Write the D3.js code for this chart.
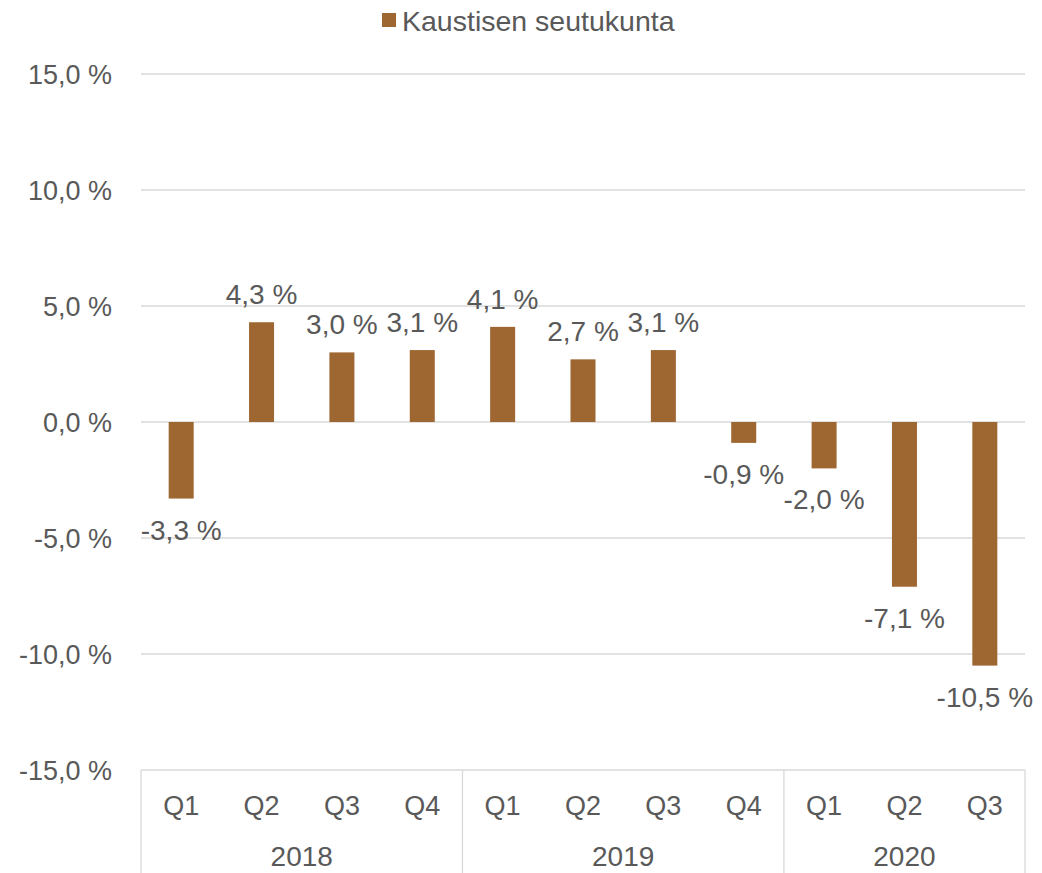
<!DOCTYPE html>
<html>
<head>
<meta charset="utf-8">
<script src="https://cdn.jsdelivr.net/npm/d3@7"></script>
<style>
  body { margin: 0; background: #fff; }
  text { font-family: "Liberation Sans", Arial, sans-serif; fill: #595959; }
</style>
</head>
<body>
<svg id="chart" width="1042" height="873"></svg>
<script>
// data
let quarters = ['Q1', 'Q2', 'Q3', 'Q4', 'Q1', 'Q2', 'Q3', 'Q4', 'Q1', 'Q2', 'Q3'];
let years = ['2018', '2018', '2018', '2018', '2019', '2019', '2019', '2019', '2020', '2020', '2020'];
let values = [-3.3, 4.3, 3.0, 3.1, 4.1, 2.7, 3.1, -0.9, -2.0, -7.1, -10.5];
let yTicks = [15, 10, 5, 0, -5, -10, -15];
let seriesName = 'Kaustisen seutukunta';

let barColor = '#9E6631';
let gridColor = '#D9D9D9';

let svg = d3.select('#chart');
let plotLeft = 141, plotRight = 1025, plotTop = 74, plotBottom = 770;

let x = d3.scaleBand().domain(d3.range(values.length)).range([plotLeft, plotRight]);
let y = d3.scaleLinear().domain([-15, 15]).range([plotBottom, plotTop]);

let fmt = v => d3.format('.1f')(v).replace('.', ',').replace('−', '-') + ' %';

//gridlines
svg.append('g').selectAll('line').data(yTicks).join('line')
  .attr('x1', plotLeft).attr('x2', plotRight)
  .attr('y1', d => y(d)).attr('y2', d => y(d))
  .attr('stroke', gridColor).attr('stroke-width', 1.3);

//y labels
svg.append('g').selectAll('text').data(yTicks).join('text')
  .attr('x', 112).attr('y', d => y(d) + 10)
  .attr('text-anchor', 'end').style('font-size', '27px')
  .text(d => fmt(d));

//bars
let bw = 25;
svg.append('g').selectAll('rect').data(values).join('rect')
  .attr('x', (d, i) => x(i) + x.bandwidth() / 2 - bw / 2)
  .attr('width', bw)
  .attr('y', d => y(Math.max(0, d)))
  .attr('height', d => Math.abs(y(d) - y(0)))
  .attr('fill', barColor);

//data labels
svg.append('g').selectAll('text').data(values).join('text')
  .attr('x', (d, i) => x(i) + x.bandwidth() / 2)
  .attr('y', d => d >= 0 ? y(d) - 18 : y(d) + 41)
  .attr('text-anchor', 'middle').style('font-size', '28px')
  .text(d => fmt(d));

//category axis: quarter labels
svg.append('g').selectAll('text').data(quarters).join('text')
  .attr('x', (d, i) => x(i) + x.bandwidth() / 2)
  .attr('y', 815)
  .attr('text-anchor', 'middle').style('font-size', '27px')
  .text(d => d);

//year groups
let groups = Array.from(d3.group(years.map((yr, i) => ({yr, i})), d => d.yr), ([yr, arr]) => ({
  yr, start: d3.min(arr, d => d.i), end: d3.max(arr, d => d.i)
}));

svg.append('g').selectAll('text').data(groups).join('text')
  .attr('x', d => (x(d.start) + x(d.end) + x.bandwidth()) / 2)
  .attr('y', 866)
  .attr('text-anchor', 'middle').style('font-size', '28px')
  .text(d => d.yr);

//group separators
let seps = [plotLeft].concat(groups.map(d => x(d.end) + x.bandwidth()));
svg.append('g').selectAll('line').data(seps).join('line')
  .attr('x1', d => d).attr('x2', d => d)
  .attr('y1', plotBottom).attr('y2', 873)
  .attr('stroke', gridColor).attr('stroke-width', 1.3);

//legend
let legend = svg.append('g');
legend.append('rect').attr('x', 382).attr('y', 13).attr('width', 14).attr('height', 14).attr('fill', barColor);
legend.append('text').attr('x', 402).attr('y', 31).style('font-size', '28.5px').text(seriesName);
</script>
</body>
</html>
